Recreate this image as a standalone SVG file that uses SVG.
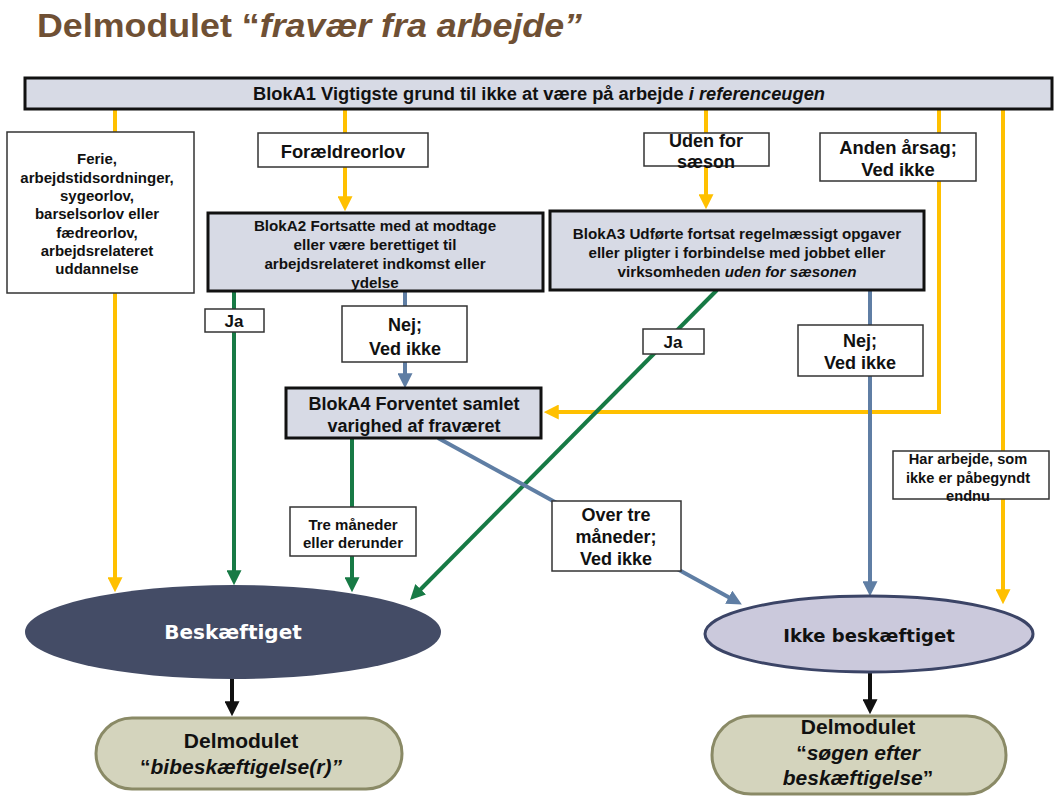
<svg xmlns="http://www.w3.org/2000/svg" width="1054" height="798" viewBox="0 0 1054 798">
<style>
.t{font-family:"Liberation Sans",Arial,sans-serif;font-weight:bold;fill:#111;text-anchor:middle}
.box{fill:#fff;stroke:#333;stroke-width:1.5}
.blk{fill:#d7dae5;stroke:#111;stroke-width:3}
.y{stroke:#ffc000;stroke-width:4;fill:none}
.g{stroke:#177a45;stroke-width:4;fill:none}
.b{stroke:#5f7ea4;stroke-width:4;fill:none}
.k{stroke:#111;stroke-width:4;fill:none}
.pill{fill:#d4d4bd;stroke:#8a8a66;stroke-width:3}
</style>
<defs>
<marker id="ay" viewBox="0 0 12 12" refX="3" refY="6" markerWidth="15" markerHeight="15" markerUnits="userSpaceOnUse" orient="auto"><path d="M0,0 L12,6 L0,12 z" fill="#ffc000"/></marker>
<marker id="ag" viewBox="0 0 12 12" refX="3" refY="6" markerWidth="15" markerHeight="15" markerUnits="userSpaceOnUse" orient="auto"><path d="M0,0 L12,6 L0,12 z" fill="#177a45"/></marker>
<marker id="ab" viewBox="0 0 12 12" refX="3" refY="6" markerWidth="15" markerHeight="15" markerUnits="userSpaceOnUse" orient="auto"><path d="M0,0 L12,6 L0,12 z" fill="#5f7ea4"/></marker>
<marker id="ak" viewBox="0 0 12 12" refX="3" refY="6" markerWidth="15" markerHeight="15" markerUnits="userSpaceOnUse" orient="auto"><path d="M0,0 L12,6 L0,12 z" fill="#111"/></marker>
</defs>
<rect width="1054" height="798" fill="#fff"/>
<text x="37" y="37" font-family="Liberation Sans,Arial,sans-serif" font-weight="bold" font-size="33" fill="#6f5034" textLength="545" lengthAdjust="spacingAndGlyphs">Delmodulet “<tspan font-style="italic">fravær fra arbejde”</tspan></text>

<g id="connectors">
<line class="y" x1="115" y1="108" x2="115" y2="581" marker-end="url(#ay)"/>
<line class="y" x1="345" y1="108" x2="345" y2="134"/>
<line class="y" x1="345" y1="167" x2="345" y2="200" marker-end="url(#ay)"/>
<line class="y" x1="706" y1="108" x2="706" y2="134"/>
<line class="y" x1="706" y1="166" x2="706" y2="198" marker-end="url(#ay)"/>
<polyline class="y" points="939,108 939,412 555,412" marker-end="url(#ay)"/>
<line class="y" x1="1003" y1="108" x2="1003" y2="593" marker-end="url(#ay)"/>
<line class="g" x1="234" y1="291" x2="234" y2="574" marker-end="url(#ag)"/>
<line class="g" x1="352" y1="438" x2="352" y2="581" marker-end="url(#ag)"/>
<line class="g" x1="717" y1="290" x2="418" y2="592" marker-end="url(#ag)"/>
<line class="b" x1="405" y1="291" x2="405" y2="377" marker-end="url(#ab)"/>
<line class="b" x1="870" y1="290" x2="870" y2="585" marker-end="url(#ab)"/>
<line class="b" x1="438" y1="438" x2="732" y2="599" marker-end="url(#ab)"/>
<line class="k" x1="232" y1="678" x2="232" y2="705" marker-end="url(#ak)"/>
<line class="k" x1="870" y1="672" x2="870" y2="703" marker-end="url(#ak)"/>
</g>

<g id="blokA1">
<rect class="blk" x="25" y="78" width="1027" height="31"/>
<text class="t" x="539" y="100" font-size="17.5" textLength="572" lengthAdjust="spacingAndGlyphs">BlokA1 Vigtigste grund til ikke at være på arbejde <tspan font-style="italic">i referenceugen</tspan></text>
</g>

<g id="ferie">
<rect class="box" x="7" y="132" width="187" height="161"/>
<text class="t" font-size="15"><tspan x="97" y="164">Ferie,</tspan><tspan x="97" y="183">arbejdstidsordninger,</tspan><tspan x="97" y="201">sygeorlov,</tspan><tspan x="97" y="219">barselsorlov eller</tspan><tspan x="97" y="238">fædreorlov,</tspan><tspan x="97" y="256">arbejdsrelateret</tspan><tspan x="97" y="274">uddannelse</tspan></text>
</g>

<g id="foraeldreorlov">
<rect class="box" x="258" y="133" width="170" height="34"/>
<text class="t" x="343" y="158" font-size="18.4">Forældreorlov</text>
</g>

<g id="udenfor">
<rect class="box" x="644" y="133" width="125" height="33"/>
<text class="t" font-size="18"><tspan x="706" y="147">Uden for</tspan><tspan x="706" y="168">sæson</tspan></text>
</g>

<g id="andenaarsag">
<rect class="box" x="820" y="133" width="156" height="48"/>
<text class="t" font-size="18.4"><tspan x="898" y="154">Anden årsag;</tspan><tspan x="898" y="176">Ved ikke</tspan></text>
</g>

<g id="blokA2">
<rect class="blk" x="208" y="213" width="335" height="78"/>
<text class="t" font-size="15.2"><tspan x="375" y="231">BlokA2 Fortsatte med at modtage</tspan><tspan x="375" y="250">eller være berettiget til</tspan><tspan x="375" y="269">arbejdsrelateret indkomst eller</tspan><tspan x="375" y="288">ydelse</tspan></text>
</g>

<g id="blokA3">
<rect class="blk" x="550" y="211" width="374" height="79"/>
<text class="t" font-size="15.2"><tspan x="737" y="239">BlokA3 Udførte fortsat regelmæssigt opgaver</tspan><tspan x="737" y="258">eller pligter i forbindelse med jobbet eller</tspan><tspan x="737" y="277">virksomheden <tspan font-style="italic">uden for sæsonen</tspan></tspan></text>
</g>

<g id="ja1">
<rect class="box" x="205" y="309" width="59" height="23"/>
<text class="t" x="234" y="327" font-size="17">Ja</text>
</g>

<g id="nej1">
<rect class="box" x="342" y="306" width="125" height="56"/>
<text class="t" font-size="18"><tspan x="405" y="331">Nej;</tspan><tspan x="405" y="355">Ved ikke</tspan></text>
</g>

<g id="ja2">
<rect class="box" x="643" y="329" width="61" height="25"/>
<text class="t" x="673" y="348" font-size="17">Ja</text>
</g>

<g id="nej2">
<rect class="box" x="798" y="325" width="125" height="51"/>
<text class="t" font-size="18"><tspan x="860" y="347">Nej;</tspan><tspan x="860" y="369">Ved ikke</tspan></text>
</g>

<g id="blokA4">
<rect class="blk" x="286" y="388" width="255" height="50"/>
<text class="t" font-size="18"><tspan x="414" y="410">BlokA4 Forventet samlet</tspan><tspan x="414" y="432">varighed af fraværet</tspan></text>
</g>

<g id="tremaaneder">
<rect class="box" x="290" y="507" width="126" height="49"/>
<text class="t" font-size="15"><tspan x="353" y="530">Tre måneder</tspan><tspan x="353" y="548">eller derunder</tspan></text>
</g>

<g id="overtre">
<rect class="box" x="552" y="501" width="129" height="70"/>
<text class="t" font-size="18"><tspan x="616" y="521">Over tre</tspan><tspan x="616" y="543">måneder;</tspan><tspan x="616" y="565">Ved ikke</tspan></text>
</g>

<g id="hararbejde">
<rect class="box" x="893" y="451" width="156" height="48"/>
<text class="t" font-size="14.6"><tspan x="968" y="464">Har arbejde, som</tspan><tspan x="968" y="483">ikke er påbegyndt</tspan><tspan x="968" y="501">endnu</tspan></text>
</g>

<g id="beskaeftiget">
<ellipse cx="233" cy="632" rx="208" ry="47" fill="#444c66"/>
<text x="233" y="639" font-family="DejaVu Sans,Verdana,sans-serif" font-weight="bold" font-size="20" fill="#fff" text-anchor="middle">Beskæftiget</text>
</g>

<g id="ikkebeskaeftiget">
<ellipse cx="869" cy="634" rx="164" ry="38" fill="#cbc9dc" stroke="#3b4466" stroke-width="3"/>
<text x="869" y="642" font-family="DejaVu Sans,Verdana,sans-serif" font-weight="bold" font-size="18" fill="#111" text-anchor="middle">Ikke beskæftiget</text>
</g>

<g id="bibeskaeftigelse">
<rect class="pill" x="96" y="718" width="306" height="71" rx="36" ry="36"/>
<text class="t" font-size="21"><tspan x="241" y="748">Delmodulet</tspan><tspan x="241" y="774">“<tspan font-style="italic">bibeskæftigelse(r)”</tspan></tspan></text>
</g>

<g id="soegen">
<rect class="pill" x="712" y="716" width="294" height="78" rx="39" ry="39"/>
<text class="t" font-size="21"><tspan x="858" y="734">Delmodulet</tspan><tspan x="858" y="760">“<tspan font-style="italic">søgen efter</tspan></tspan><tspan x="858" y="785" font-style="italic">beskæftigelse<tspan font-style="normal">”</tspan></tspan></text>
</g>
</svg>
